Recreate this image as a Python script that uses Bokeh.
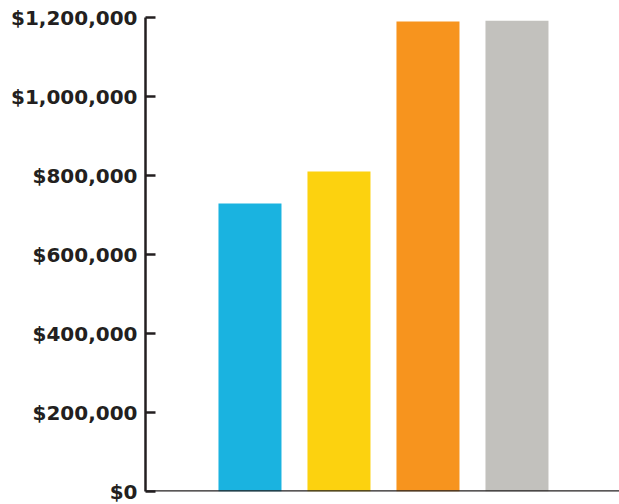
from bokeh.plotting import figure
from bokeh.models import Range1d, Span, FixedTicker, CustomJSTickFormatter
from bokeh.embed import file_html
from bokeh.resources import INLINE

categories = ["Category 1", "Category 2", "Category 3", "Category 4"]
values = [729000, 810000, 1190000, 1192000]
colors = ["#1ab3e0", "#fcd20f", "#f7941e", "#c2c1bd"]
y_ticks = [0, 200000, 400000, 600000, 800000, 1000000, 1200000]

xs = [i + 1 for i in range(len(categories))]

p = figure(width=619, height=504, output_backend="svg", toolbar_location=None,
           x_range=Range1d(-0.174, 5.152), y_range=Range1d(0, 1200000),
           min_border_left=145, min_border_right=0, min_border_top=17, min_border_bottom=13)
p.outline_line_color = None
p.grid.visible = False
p.background_fill_color = "white"
p.border_fill_color = "white"

p.vbar(x=xs, top=values, width=0.708, color=colors, line_color=None)

p.xaxis.visible = False
p.add_layout(Span(location=0, dimension="width", line_color="#231f20", line_width=2.5))

ya = p.yaxis[0]
ya.ticker = FixedTicker(ticks=y_ticks)
ya.formatter = CustomJSTickFormatter(code="return '$' + tick.toLocaleString('en-US');")
ya.axis_line_color = "#231f20"
ya.axis_line_width = 2.5
ya.major_tick_line_color = "#231f20"
ya.major_tick_line_width = 2.5
ya.major_tick_in = 10
ya.major_tick_out = 0
ya.minor_tick_line_color = None
ya.major_label_standoff = 8
ya.major_label_text_font = "DejaVu Sans"
ya.major_label_text_font_style = "bold"
ya.major_label_text_font_size = "20px"
ya.major_label_text_color = "#231f20"

open("out.html", "w").write(file_html(p, INLINE))
